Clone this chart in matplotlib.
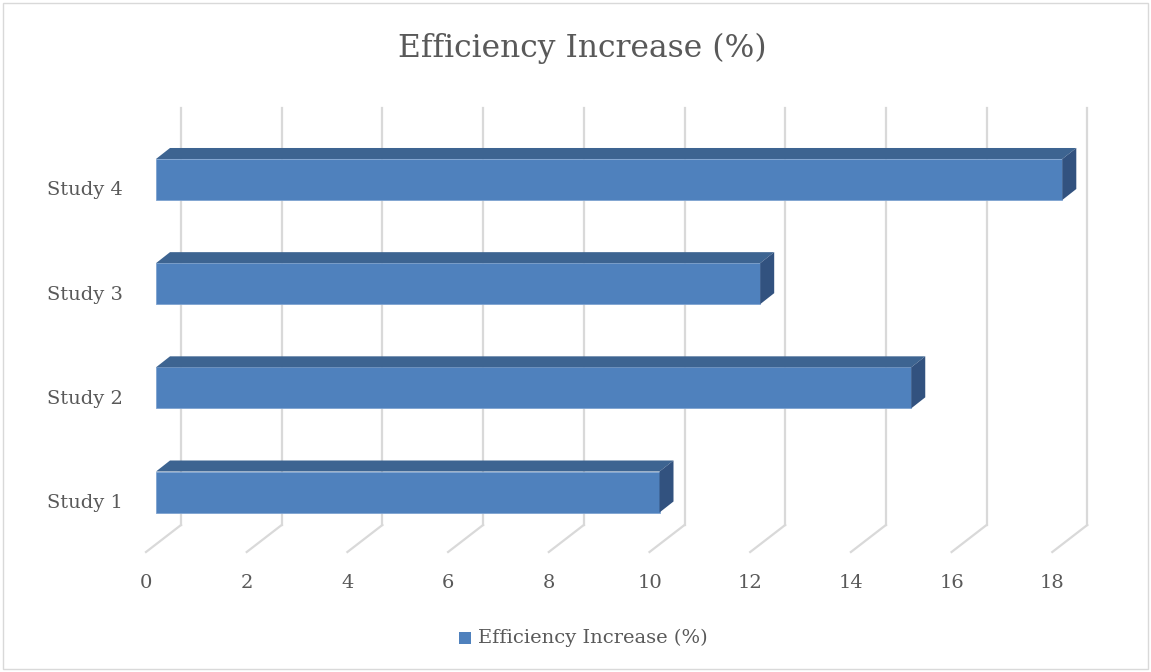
import matplotlib.pyplot as plt
from matplotlib.patches import Polygon, Rectangle
import numpy as np

studies = ['Study 1', 'Study 2', 'Study 3', 'Study 4']
values = [10, 15, 12, 18]
xticks = [0, 2, 4, 6, 8, 10, 12, 14, 16, 18]
title = 'Efficiency Increase (%)'

front = '#4f81bd'
top_c = '#3d6491'
side_c = '#32527f'
grid_c = '#d9d9d9'
text_c = '#595959'
font = 'DejaVu Serif'

W, H = 1151, 672
fig = plt.figure(figsize=(W / 100, H / 100), dpi=100)
ax = fig.add_axes([0, 0, 1, 1])
ax.set_axis_off()

# pixel -> data mapping (front face of bars at x=156px, 50.35 px per unit)
ppu_x = 50.35
ppu_y = 104.17
x0_px, y0_px = 156, 492
ax.set_xlim(-x0_px / ppu_x, (W - x0_px) / ppu_x)
ax.set_ylim((y0_px - H) / ppu_y, y0_px / ppu_y)

def px_y(p):
    return (y0_px - p) / ppu_y

# 3d depth offsets
dx = 14 / ppu_x
dy = 11 / ppu_y
back_dx = 25 / ppu_x
front_dx = -10 / ppu_x

# gridlines on back wall + floor diagonals
for t in xticks:
    ax.plot([t + back_dx, t + back_dx], [px_y(108), px_y(525)], color=grid_c, lw=1.6, zorder=1)
    ax.plot([t + back_dx, t + front_dx], [px_y(525), px_y(552)], color=grid_c, lw=1.6, zorder=1)
    ax.text(t + front_dx, px_y(583), str(t), ha='center', va='center',
            fontsize=14, color=text_c, family=font)

bh = 41 / ppu_y
ypos = np.arange(len(studies))
ax.barh(ypos, values, height=bh, left=0, color=front, edgecolor='#7ea3d1', lw=0.6, zorder=3)
for y, v in zip(ypos, values):
    top = y + bh / 2
    bot = y - bh / 2
    ax.add_patch(Polygon([(0, top), (v, top), (v + dx, top + dy), (dx, top + dy)],
                         closed=True, facecolor=top_c, edgecolor='none', zorder=3))
    ax.add_patch(Polygon([(v, bot), (v, top), (v + dx, top + dy), (v + dx, bot + dy)],
                         closed=True, facecolor=side_c, edgecolor='none', zorder=3))
    ax.text(-33 / ppu_x, y - 11 / ppu_y, studies[int(y)], ha='right', va='center',
            fontsize=14, color=text_c, family=font)

fig.text(582 / W, 1 - 48 / H, title, ha='center', va='center', fontsize=22.6,
         color=text_c, family=font)

# legend
fig.patches.append(Rectangle((459 / W, 1 - 644 / H), 12 / W, 12 / H, transform=fig.transFigure,
                             facecolor=front, edgecolor='none'))
fig.text(478 / W, 1 - 638 / H, title, ha='left', va='center', fontsize=14,
         color=text_c, family=font)

# chart border
fig.patches.append(Rectangle((3 / W, 3 / H), (W - 6) / W, (H - 6) / H, transform=fig.transFigure,
                             facecolor='none', edgecolor=grid_c, lw=1))

fig.savefig('out.png', dpi=100)
